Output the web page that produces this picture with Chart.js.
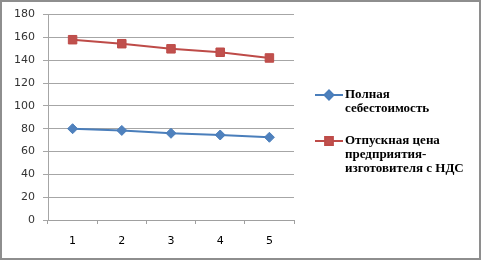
<!DOCTYPE html>
<html>
<head>
<meta charset="utf-8">
<script src="https://cdn.jsdelivr.net/npm/chart.js@4"></script>
<style>
  html, body { margin: 0; padding: 0; background: #fff; }
  #wrap { position: relative; width: 482px; height: 262px; }
</style>
</head>
<body>
<div id="wrap"><canvas id="myLineGraph" width="482" height="262"></canvas></div>
<script>
var periods = ["1", "2", "3", "4", "5"];
var fullCost = [80, 78.5, 76, 74.5, 72.5];
var sellPrice = [158, 154.5, 150, 147, 142];
var seriesNames = [
  ["Полная", "себестоимость"],
  ["Отпускная цена", "предприятия-", "изготовителя с НДС"]
];
var yTicks = [0, 20, 40, 60, 80, 100, 120, 140, 160, 180];

var blue = "#4a7ebb";
var red = "#be4b48";

// legend + frame drawn by hand, Excel-like
var sideLegend = {
  id: "sideLegend",
  afterDraw: function(chart) {
    var c = chart.ctx;
    c.save();
    c.strokeStyle = "#8e8e8e";
    c.lineWidth = 2;
    c.strokeRect(1, 1, 479, 258);

    var rows = [
      { y: 95, color: blue, fill: "#4f81bd", style: "rectRot", r: 4.5, lines: seriesNames[0] },
      { y: 141, color: red, fill: "#c0504d", style: "rect", r: 5.5, lines: seriesNames[1] }
    ];
    rows.forEach(function(row) {
      c.strokeStyle = row.color;
      c.lineWidth = 2;
      c.beginPath();
      c.moveTo(315, row.y);
      c.lineTo(343, row.y);
      c.stroke();
      c.fillStyle = row.fill;
      c.strokeStyle = row.color;
      Chart.helpers.drawPoint(c, { pointStyle: row.style, radius: row.r, borderWidth: 1 }, 329, row.y);
      c.fillStyle = "#000";
      c.font = "bold 13px 'Liberation Serif'";
      c.textBaseline = "middle";
      row.lines.forEach(function(t, i) {
        c.fillText(t, 345, row.y + i * 14);
      });
    });
    c.restore();
  }
};

var lineCtx = document.getElementById("myLineGraph").getContext("2d");
var myLineGraph = new Chart(lineCtx, {
  type: "line",
  data: {
    labels: periods,
    datasets: [
      {
        label: seriesNames[0].join(" "),
        data: fullCost,
        borderColor: blue,
        backgroundColor: "#4f81bd",
        borderWidth: 2,
        pointStyle: "rectRot",
        pointRadius: 5,
        pointBorderWidth: 1,
        lineTension: 0
      },
      {
        label: seriesNames[1].join(" "),
        data: sellPrice,
        borderColor: red,
        backgroundColor: "#c0504d",
        borderWidth: 2,
        pointStyle: "rect",
        pointRadius: 6,
        pointBorderWidth: 1,
        lineTension: 0
      }
    ]
  },
  options: {
    responsive: false,
    animation: false,
    layout: { padding: { top: 14, right: 188, left: 0, bottom: 0 } },
    plugins: {
      legend: { display: false },
      tooltip: { enabled: false }
    },
    scales: {
      x: {
        offset: true,
        grid: { offset: true, drawOnChartArea: false, tickLength: 4, color: "#a0a0a0" },
        border: { color: "#a0a0a0" },
        ticks: { color: "#000", font: { family: "DejaVu Sans", size: 11 }, padding: 11 },
        afterFit: function(s) { s.height = 42; }
      },
      y: {
        min: 0,
        max: 180,
        afterBuildTicks: function(s) { s.ticks = yTicks.map(function(v) { return { value: v }; }); },
        grid: { color: "#a6a6a6", tickLength: 5 },
        border: { color: "#a6a6a6" },
        ticks: { color: "#333", font: { family: "DejaVu Sans", size: 11 }, padding: 8 },
        afterFit: function(s) { s.width = 48; }
      }
    }
  },
  plugins: [sideLegend]
});
</script>
</body>
</html>
